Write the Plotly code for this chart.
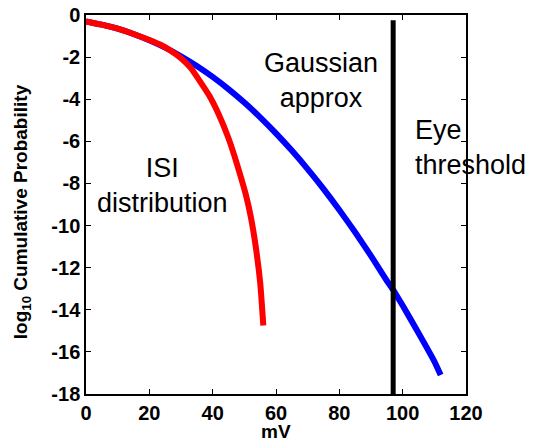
import plotly.graph_objects as go

# Gaussian approximation (blue)
gauss_x = [0, 5, 10, 15, 20, 25, 30, 35, 40, 45, 50, 55, 60, 65, 70, 75, 80, 85, 90, 95, 97, 100, 105, 110, 112]
gauss_y = [-0.30, -0.46, -0.65, -0.90, -1.20, -1.55, -1.96, -2.42, -2.94, -3.52, -4.16, -4.86, -5.62, -6.44, -7.32, -8.26, -9.26, -10.32, -11.44, -12.62, -13.05, -13.8, -15.1, -16.45, -17.1]

# ISI distribution (red)
isi_x = [0, 5, 10, 15, 20, 24, 27, 30, 33, 36, 39, 42, 45, 47, 49, 50.5, 52, 53.5, 55, 56]
isi_y = [-0.30, -0.46, -0.65, -0.90, -1.19, -1.45, -1.72, -2.05, -2.50, -3.15, -3.85, -4.75, -5.85, -6.75, -7.75, -8.55, -9.55, -10.90, -12.70, -14.75]

# Eye threshold
thresh_x = [97, 97]
thresh_y = [-0.25, -18]

x_ticks = [0, 20, 40, 60, 80, 100, 120]
y_ticks = [0, -2, -4, -6, -8, -10, -12, -14, -16, -18]

FONT = "Arial, Liberation Sans, sans-serif"

fig = go.Figure()
fig.add_trace(go.Scatter(x=gauss_x, y=gauss_y, mode="lines",
                         line=dict(color="#0000ff", width=6, shape="spline", smoothing=0.5),
                         showlegend=False))
fig.add_trace(go.Scatter(x=isi_x, y=isi_y, mode="lines",
                         line=dict(color="#ff0000", width=6, shape="spline", smoothing=0.5),
                         showlegend=False))
fig.add_trace(go.Scatter(x=thresh_x, y=thresh_y, mode="lines",
                         line=dict(color="#000000", width=5), showlegend=False))

axis_common = dict(showgrid=False, zeroline=False, showline=True, linecolor="black",
                   linewidth=1.5, ticks="inside", ticklen=5, tickwidth=1.2,
                   tickcolor="black", mirror="ticks", automargin=False,
                   tickfont=dict(family=FONT, size=20, color="black", weight="bold"))

fig.update_layout(
    width=535, height=442,
    margin=dict(l=86, r=69, t=15, b=48),
    paper_bgcolor="white", plot_bgcolor="white",
    xaxis=dict(range=[0, 120], tickvals=x_ticks, ticktext=[str(v) for v in x_ticks], **axis_common),
    yaxis=dict(range=[-18, 0], tickvals=y_ticks, ticktext=[str(v) for v in y_ticks], **axis_common),
    font=dict(family=FONT, color="black"),
)

fig.add_annotation(x=74.2, y=-3.1, text="Gaussian<br>approx", showarrow=False,
                   font=dict(family=FONT, size=27, color="black"), align="center",
                   xanchor="center", yanchor="middle")
fig.add_annotation(x=103.3, y=-6.3, text="Eye<br>threshold", showarrow=False,
                   font=dict(family=FONT, size=27, color="black"), align="left",
                   xanchor="left", yanchor="middle")
fig.add_annotation(x=24.3, y=-8.1, text="ISI<br>distribution", showarrow=False,
                   font=dict(family=FONT, size=27, color="black"), align="center",
                   xanchor="center", yanchor="middle")

# axis titles
fig.add_annotation(xref="paper", yref="paper", x=0.5, y=-0.100, text="<b>mV</b>",
                   showarrow=False, font=dict(family=FONT, size=19, color="black"),
                   xanchor="center", yanchor="middle")
fig.add_annotation(xref="paper", yref="paper", x=-0.168, y=0.48,
                   text="<b>log<sub>10</sub> Cumulative Probability</b>",
                   showarrow=False, textangle=-90,
                   font=dict(family=FONT, size=19, color="black"),
                   xanchor="center", yanchor="middle")

fig.write_html("out.html", config={"displayModeBar": False},
               post_script="document.body.style.margin='0px';")
